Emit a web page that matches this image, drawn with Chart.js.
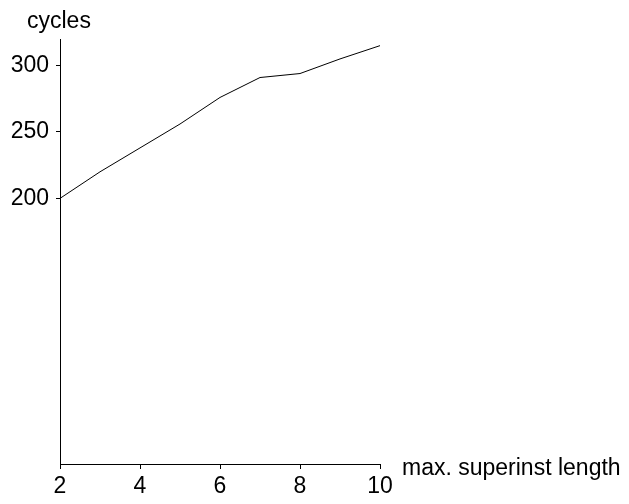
<!DOCTYPE html>
<html>
<head>
<meta charset="utf-8">
<script src="https://cdn.jsdelivr.net/npm/chart.js@4/dist/chart.umd.min.js"></script>
<style>
  html, body { margin: 0; padding: 0; background: #fff; }
  #wrap { width: 629px; height: 504px; }
</style>
</head>
<body>
<div id="wrap"><canvas id="chart"></canvas></div>
<script>
const lengths = [2, 3, 4, 5, 6, 7, 8, 9, 10]
const cycles = [200, 220, 238, 256, 276, 291, 294, 305, 315]
const yTicks = [200, 250, 300]
const xTicks = [2, 4, 6, 8, 10]

const font = { family: "'Liberation Sans', Arial, sans-serif", size: 23 }

// axis titles: "cycles" above the y axis, x title to the right of the x axis
const axisTitles = {
    id: 'axisTitles',
    afterDraw(chart) {
        const ctx = chart.ctx
        const area = chart.chartArea
        ctx.save()
        ctx.fillStyle = '#000'
        ctx.font = font.size + 'px ' + font.family
        ctx.textBaseline = 'alphabetic'
        ctx.textAlign = 'left'
        ctx.fillText('cycles', 27, 28)
        ctx.fillText('max. superinst length', area.right + 22, area.bottom + 11)
        ctx.restore()
    }
}

const getChart = document.getElementById("chart").getContext("2d");
const myChart = new Chart(getChart, {
    type: 'line',
    data: {
        datasets: [{
            label: 'cycles',
            data: lengths.map((x, i) => ({ x: x, y: cycles[i] })),
            borderColor: '#000',
            borderWidth: 1,
            pointRadius: 0,
            tension: 0,
            fill: false
        }]
    },
    options: {
        responsive: true,
        maintainAspectRatio: false,
        animation: false,
        layout: { padding: { top: 39, right: 249, left: 0, bottom: 0 } },
        plugins: { legend: { display: false }, tooltip: { enabled: false } },
        scales: {
            x: {
                type: 'linear',
                min: 2,
                max: 10,
                afterBuildTicks: (scale) => { scale.ticks = xTicks.map(v => ({ value: v })) },
                afterFit: (scale) => { scale.height = 40 },
                grid: { drawOnChartArea: false, drawTicks: true, tickLength: 5, color: '#000', lineWidth: 1 },
                border: { display: true, color: '#000', width: 1 },
                ticks: { color: '#000', font: font, padding: 4, maxRotation: 0 }
            },
            y: {
                type: 'linear',
                min: 0,
                max: 320,
                afterBuildTicks: (scale) => { scale.ticks = yTicks.map(v => ({ value: v })) },
                afterFit: (scale) => { scale.width = 60 },
                grid: { drawOnChartArea: false, drawTicks: true, tickLength: 4, color: '#000', lineWidth: 1 },
                border: { display: true, color: '#000', width: 1 },
                ticks: { color: '#000', font: font, padding: 7 }
            }
        }
    },
    plugins: [axisTitles]
});
</script>
</body>
</html>
